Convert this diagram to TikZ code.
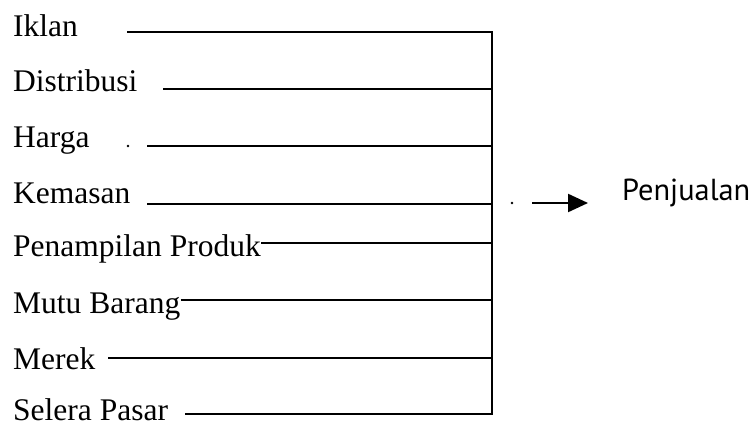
\documentclass[tikz,border=0pt]{standalone}
\usepackage{fontspec}
\setmainfont{Liberation Serif}
\newfontfamily\resfont{PT Sans}
\usetikzlibrary{arrows.meta}

\begin{document}
\begin{tikzpicture}[x=1pt,y=-1pt,
  factor/.style={anchor=base west,inner sep=0pt,
    font=\fontsize{31.5}{36}\selectfont},
  result/.style={anchor=base west,inner sep=0pt,
    font=\resfont\fontsize{30.4}{34}\selectfont},
  feed/.style={line width=2.2pt},
  bus/.style={line width=2.4pt,line cap=rect},
  speck/.style={fill=black,circle,inner sep=0pt,minimum size=2.8pt}]
\useasboundingbox (0,0) rectangle (751,427);

% factor labels down the left side
\node[factor] (iklan) at (13,36.5) {Iklan};
\node[factor] (dist)  at (13,91.5) {Distribusi};
\node[factor] (harga) at (13,148) {Harga};
\node[factor] (kem)   at (13,204) {Kemasan};
\node[factor] (pen)   at (13,257) {Penampilan Produk};
\node[factor] (mutu)  at (13,313) {Mutu Barang};
\node[factor] (merek) at (13,369) {Merek};
\node[factor] (sel)   at (13,420.5) {Selera Pasar};

% start points of the feeder lines
\coordinate (s1) at (127,32);
\coordinate (s2) at (163,89);
\coordinate (s3) at (147,146);
\coordinate (s4) at (147,204);
\coordinate (s5) at (pen.east |- 0,243);
\coordinate (s6) at (mutu.east |- 0,300);
\coordinate (s7) at (108,358);
\coordinate (s8) at (185,414);

% junctions on the collecting bar
\coordinate (j1) at (492,32);
\coordinate (j2) at (492,89);
\coordinate (j3) at (492,146);
\coordinate (j4) at (492,204);
\coordinate (j5) at (492,243);
\coordinate (j6) at (492,300);
\coordinate (j7) at (492,358);
\coordinate (j8) at (492,414);

\foreach \i in {1,...,8} \draw[feed] (s\i) -- (j\i);
\draw[bus] (j1) -- (j8);

% outcome
\node[result] (jual) at (622,201) {Penjualan};
\coordinate (a0) at (532,203);
\coordinate (a1) at (588,203);
\draw[feed,-{Triangle[length=20pt,width=18pt]}] (a0) -- (a1);

% small specks
\node[speck] (d1) at (128,146) {};
\node[speck] (d2) at (512,203) {};
\end{tikzpicture}
\end{document}
